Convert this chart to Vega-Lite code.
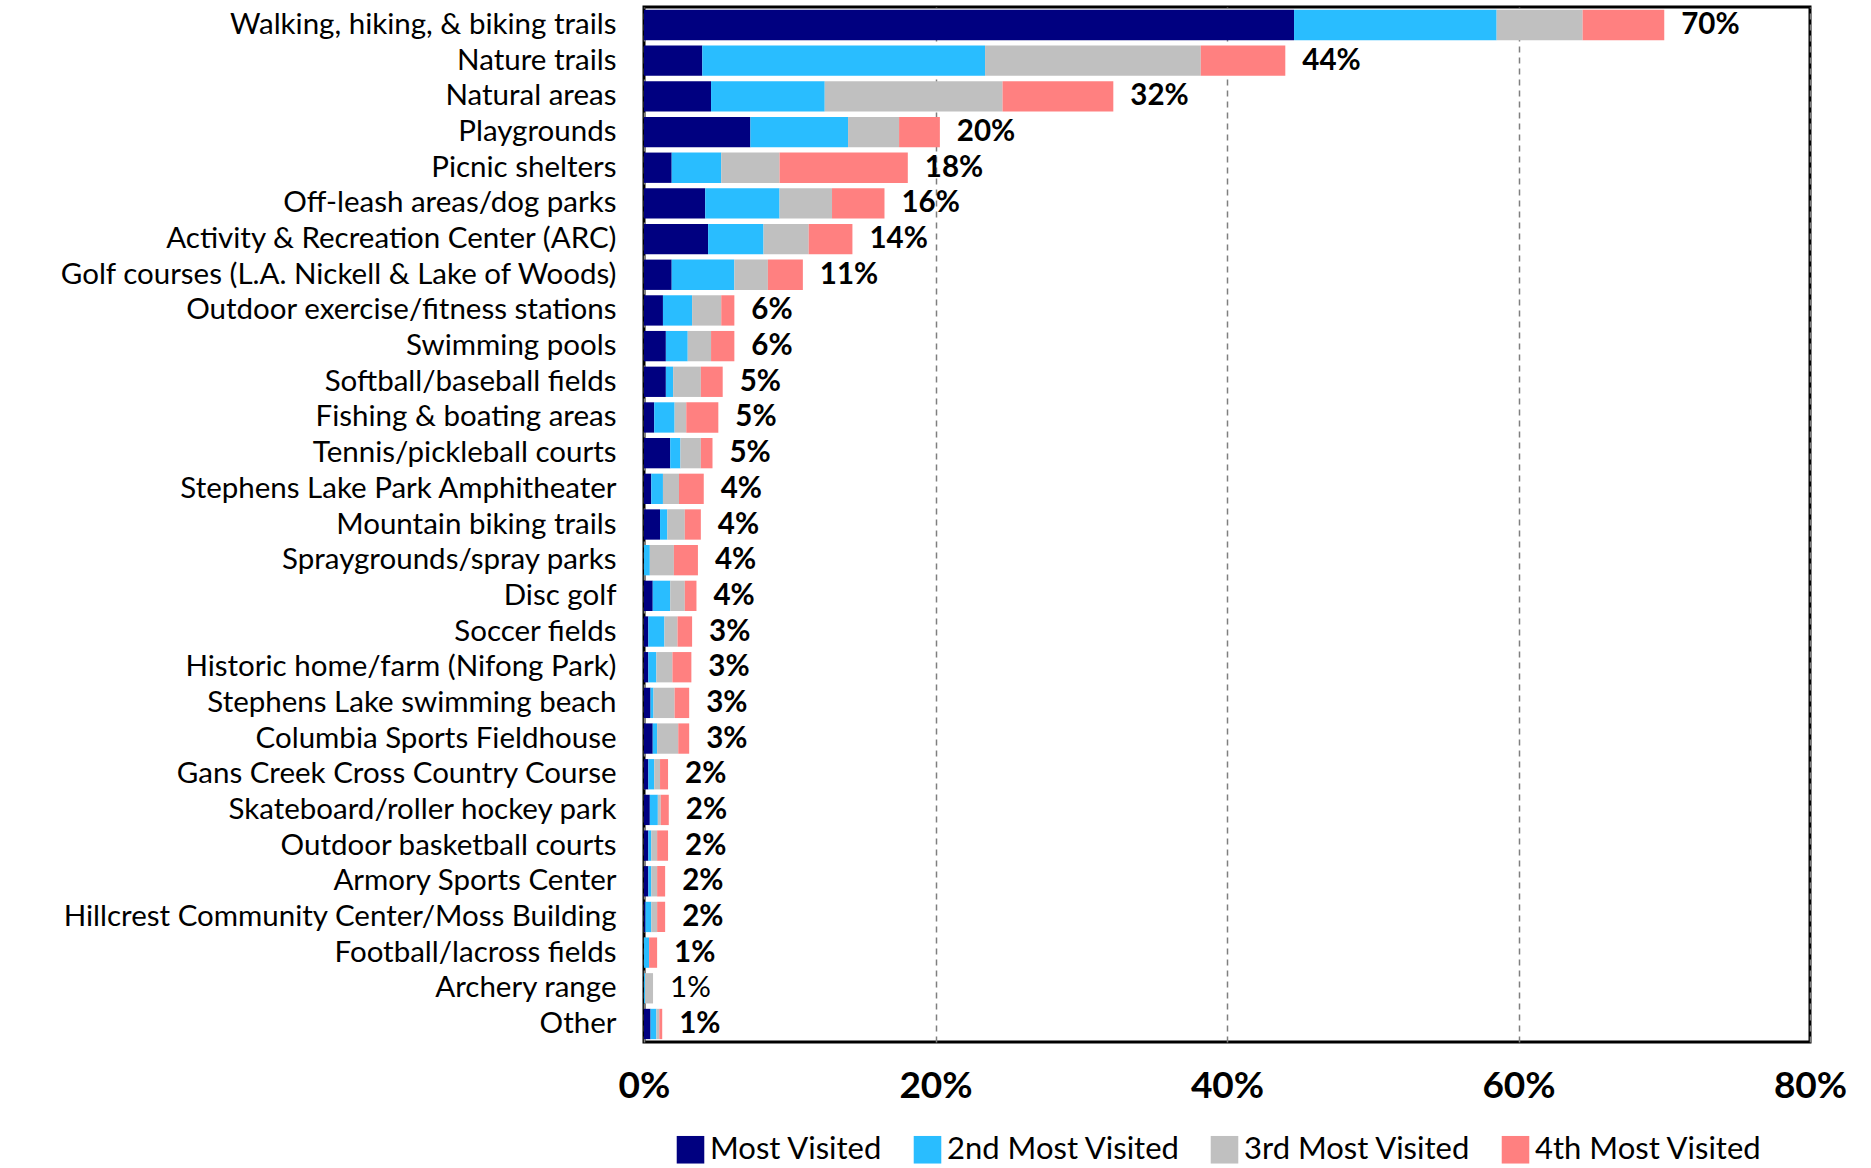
{
  "$schema": "https://vega.github.io/schema/vega-lite/v6.json",
  "width": 1166,
  "height": 1035,
  "autosize": {"type": "none"},
  "padding": {"left": 644, "top": 7, "right": 61, "bottom": 126},
  "background": "white",
  "config": {
    "font": "Lato",
    "view": {"stroke": "black", "strokeWidth": 3}
  },
  "data": {
    "values": [
      {"f": "Walking, hiking, & biking trails", "s": "Most Visited", "r": 1, "v": 44.6, "t": "70%"},
      {"f": "Walking, hiking, & biking trails", "s": "2nd Most Visited", "r": 2, "v": 13.9, "t": "70%"},
      {"f": "Walking, hiking, & biking trails", "s": "3rd Most Visited", "r": 3, "v": 5.9, "t": "70%"},
      {"f": "Walking, hiking, & biking trails", "s": "4th Most Visited", "r": 4, "v": 5.6, "t": "70%"},
      {"f": "Nature trails", "s": "Most Visited", "r": 1, "v": 4.0, "t": "44%"},
      {"f": "Nature trails", "s": "2nd Most Visited", "r": 2, "v": 19.4, "t": "44%"},
      {"f": "Nature trails", "s": "3rd Most Visited", "r": 3, "v": 14.8, "t": "44%"},
      {"f": "Nature trails", "s": "4th Most Visited", "r": 4, "v": 5.8, "t": "44%"},
      {"f": "Natural areas", "s": "Most Visited", "r": 1, "v": 4.6, "t": "32%"},
      {"f": "Natural areas", "s": "2nd Most Visited", "r": 2, "v": 7.8, "t": "32%"},
      {"f": "Natural areas", "s": "3rd Most Visited", "r": 3, "v": 12.2, "t": "32%"},
      {"f": "Natural areas", "s": "4th Most Visited", "r": 4, "v": 7.6, "t": "32%"},
      {"f": "Playgrounds", "s": "Most Visited", "r": 1, "v": 7.3, "t": "20%"},
      {"f": "Playgrounds", "s": "2nd Most Visited", "r": 2, "v": 6.7, "t": "20%"},
      {"f": "Playgrounds", "s": "3rd Most Visited", "r": 3, "v": 3.5, "t": "20%"},
      {"f": "Playgrounds", "s": "4th Most Visited", "r": 4, "v": 2.8, "t": "20%"},
      {"f": "Picnic shelters", "s": "Most Visited", "r": 1, "v": 1.9, "t": "18%"},
      {"f": "Picnic shelters", "s": "2nd Most Visited", "r": 2, "v": 3.4, "t": "18%"},
      {"f": "Picnic shelters", "s": "3rd Most Visited", "r": 3, "v": 4.0, "t": "18%"},
      {"f": "Picnic shelters", "s": "4th Most Visited", "r": 4, "v": 8.8, "t": "18%"},
      {"f": "Off-leash areas/dog parks", "s": "Most Visited", "r": 1, "v": 4.2, "t": "16%"},
      {"f": "Off-leash areas/dog parks", "s": "2nd Most Visited", "r": 2, "v": 5.1, "t": "16%"},
      {"f": "Off-leash areas/dog parks", "s": "3rd Most Visited", "r": 3, "v": 3.6, "t": "16%"},
      {"f": "Off-leash areas/dog parks", "s": "4th Most Visited", "r": 4, "v": 3.6, "t": "16%"},
      {"f": "Activity & Recreation Center (ARC)", "s": "Most Visited", "r": 1, "v": 4.4, "t": "14%"},
      {"f": "Activity & Recreation Center (ARC)", "s": "2nd Most Visited", "r": 2, "v": 3.8, "t": "14%"},
      {"f": "Activity & Recreation Center (ARC)", "s": "3rd Most Visited", "r": 3, "v": 3.1, "t": "14%"},
      {"f": "Activity & Recreation Center (ARC)", "s": "4th Most Visited", "r": 4, "v": 3.0, "t": "14%"},
      {"f": "Golf courses (L.A. Nickell & Lake of Woods)", "s": "Most Visited", "r": 1, "v": 1.9, "t": "11%"},
      {"f": "Golf courses (L.A. Nickell & Lake of Woods)", "s": "2nd Most Visited", "r": 2, "v": 4.3, "t": "11%"},
      {"f": "Golf courses (L.A. Nickell & Lake of Woods)", "s": "3rd Most Visited", "r": 3, "v": 2.3, "t": "11%"},
      {"f": "Golf courses (L.A. Nickell & Lake of Woods)", "s": "4th Most Visited", "r": 4, "v": 2.4, "t": "11%"},
      {"f": "Outdoor exercise/fitness stations", "s": "Most Visited", "r": 1, "v": 1.3, "t": "6%"},
      {"f": "Outdoor exercise/fitness stations", "s": "2nd Most Visited", "r": 2, "v": 2.0, "t": "6%"},
      {"f": "Outdoor exercise/fitness stations", "s": "3rd Most Visited", "r": 3, "v": 2.0, "t": "6%"},
      {"f": "Outdoor exercise/fitness stations", "s": "4th Most Visited", "r": 4, "v": 0.9, "t": "6%"},
      {"f": "Swimming pools", "s": "Most Visited", "r": 1, "v": 1.5, "t": "6%"},
      {"f": "Swimming pools", "s": "2nd Most Visited", "r": 2, "v": 1.5, "t": "6%"},
      {"f": "Swimming pools", "s": "3rd Most Visited", "r": 3, "v": 1.6, "t": "6%"},
      {"f": "Swimming pools", "s": "4th Most Visited", "r": 4, "v": 1.6, "t": "6%"},
      {"f": "Softball/baseball fields", "s": "Most Visited", "r": 1, "v": 1.5, "t": "5%"},
      {"f": "Softball/baseball fields", "s": "2nd Most Visited", "r": 2, "v": 0.5, "t": "5%"},
      {"f": "Softball/baseball fields", "s": "3rd Most Visited", "r": 3, "v": 1.9, "t": "5%"},
      {"f": "Softball/baseball fields", "s": "4th Most Visited", "r": 4, "v": 1.5, "t": "5%"},
      {"f": "Fishing & boating areas", "s": "Most Visited", "r": 1, "v": 0.7, "t": "5%"},
      {"f": "Fishing & boating areas", "s": "2nd Most Visited", "r": 2, "v": 1.4, "t": "5%"},
      {"f": "Fishing & boating areas", "s": "3rd Most Visited", "r": 3, "v": 0.8, "t": "5%"},
      {"f": "Fishing & boating areas", "s": "4th Most Visited", "r": 4, "v": 2.2, "t": "5%"},
      {"f": "Tennis/pickleball courts", "s": "Most Visited", "r": 1, "v": 1.8, "t": "5%"},
      {"f": "Tennis/pickleball courts", "s": "2nd Most Visited", "r": 2, "v": 0.7, "t": "5%"},
      {"f": "Tennis/pickleball courts", "s": "3rd Most Visited", "r": 3, "v": 1.4, "t": "5%"},
      {"f": "Tennis/pickleball courts", "s": "4th Most Visited", "r": 4, "v": 0.8, "t": "5%"},
      {"f": "Stephens Lake Park Amphitheater", "s": "Most Visited", "r": 1, "v": 0.5, "t": "4%"},
      {"f": "Stephens Lake Park Amphitheater", "s": "2nd Most Visited", "r": 2, "v": 0.8, "t": "4%"},
      {"f": "Stephens Lake Park Amphitheater", "s": "3rd Most Visited", "r": 3, "v": 1.1, "t": "4%"},
      {"f": "Stephens Lake Park Amphitheater", "s": "4th Most Visited", "r": 4, "v": 1.7, "t": "4%"},
      {"f": "Mountain biking trails", "s": "Most Visited", "r": 1, "v": 1.1, "t": "4%"},
      {"f": "Mountain biking trails", "s": "2nd Most Visited", "r": 2, "v": 0.5, "t": "4%"},
      {"f": "Mountain biking trails", "s": "3rd Most Visited", "r": 3, "v": 1.2, "t": "4%"},
      {"f": "Mountain biking trails", "s": "4th Most Visited", "r": 4, "v": 1.1, "t": "4%"},
      {"f": "Spraygrounds/spray parks", "s": "Most Visited", "r": 1, "v": 0.0, "t": "4%"},
      {"f": "Spraygrounds/spray parks", "s": "2nd Most Visited", "r": 2, "v": 0.4, "t": "4%"},
      {"f": "Spraygrounds/spray parks", "s": "3rd Most Visited", "r": 3, "v": 1.65, "t": "4%"},
      {"f": "Spraygrounds/spray parks", "s": "4th Most Visited", "r": 4, "v": 1.65, "t": "4%"},
      {"f": "Disc golf", "s": "Most Visited", "r": 1, "v": 0.6, "t": "4%"},
      {"f": "Disc golf", "s": "2nd Most Visited", "r": 2, "v": 1.2, "t": "4%"},
      {"f": "Disc golf", "s": "3rd Most Visited", "r": 3, "v": 1.0, "t": "4%"},
      {"f": "Disc golf", "s": "4th Most Visited", "r": 4, "v": 0.8, "t": "4%"},
      {"f": "Soccer fields", "s": "Most Visited", "r": 1, "v": 0.3, "t": "3%"},
      {"f": "Soccer fields", "s": "2nd Most Visited", "r": 2, "v": 1.1, "t": "3%"},
      {"f": "Soccer fields", "s": "3rd Most Visited", "r": 3, "v": 0.9, "t": "3%"},
      {"f": "Soccer fields", "s": "4th Most Visited", "r": 4, "v": 1.0, "t": "3%"},
      {"f": "Historic home/farm (Nifong Park)", "s": "Most Visited", "r": 1, "v": 0.3, "t": "3%"},
      {"f": "Historic home/farm (Nifong Park)", "s": "2nd Most Visited", "r": 2, "v": 0.55, "t": "3%"},
      {"f": "Historic home/farm (Nifong Park)", "s": "3rd Most Visited", "r": 3, "v": 1.1, "t": "3%"},
      {"f": "Historic home/farm (Nifong Park)", "s": "4th Most Visited", "r": 4, "v": 1.3, "t": "3%"},
      {"f": "Stephens Lake swimming beach", "s": "Most Visited", "r": 1, "v": 0.45, "t": "3%"},
      {"f": "Stephens Lake swimming beach", "s": "2nd Most Visited", "r": 2, "v": 0.2, "t": "3%"},
      {"f": "Stephens Lake swimming beach", "s": "3rd Most Visited", "r": 3, "v": 1.45, "t": "3%"},
      {"f": "Stephens Lake swimming beach", "s": "4th Most Visited", "r": 4, "v": 1.0, "t": "3%"},
      {"f": "Columbia Sports Fieldhouse", "s": "Most Visited", "r": 1, "v": 0.6, "t": "3%"},
      {"f": "Columbia Sports Fieldhouse", "s": "2nd Most Visited", "r": 2, "v": 0.3, "t": "3%"},
      {"f": "Columbia Sports Fieldhouse", "s": "3rd Most Visited", "r": 3, "v": 1.45, "t": "3%"},
      {"f": "Columbia Sports Fieldhouse", "s": "4th Most Visited", "r": 4, "v": 0.75, "t": "3%"},
      {"f": "Gans Creek Cross Country Course", "s": "Most Visited", "r": 1, "v": 0.3, "t": "2%"},
      {"f": "Gans Creek Cross Country Course", "s": "2nd Most Visited", "r": 2, "v": 0.4, "t": "2%"},
      {"f": "Gans Creek Cross Country Course", "s": "3rd Most Visited", "r": 3, "v": 0.4, "t": "2%"},
      {"f": "Gans Creek Cross Country Course", "s": "4th Most Visited", "r": 4, "v": 0.55, "t": "2%"},
      {"f": "Skateboard/roller hockey park", "s": "Most Visited", "r": 1, "v": 0.4, "t": "2%"},
      {"f": "Skateboard/roller hockey park", "s": "2nd Most Visited", "r": 2, "v": 0.55, "t": "2%"},
      {"f": "Skateboard/roller hockey park", "s": "3rd Most Visited", "r": 3, "v": 0.2, "t": "2%"},
      {"f": "Skateboard/roller hockey park", "s": "4th Most Visited", "r": 4, "v": 0.55, "t": "2%"},
      {"f": "Outdoor basketball courts", "s": "Most Visited", "r": 1, "v": 0.3, "t": "2%"},
      {"f": "Outdoor basketball courts", "s": "2nd Most Visited", "r": 2, "v": 0.2, "t": "2%"},
      {"f": "Outdoor basketball courts", "s": "3rd Most Visited", "r": 3, "v": 0.4, "t": "2%"},
      {"f": "Outdoor basketball courts", "s": "4th Most Visited", "r": 4, "v": 0.75, "t": "2%"},
      {"f": "Armory Sports Center", "s": "Most Visited", "r": 1, "v": 0.3, "t": "2%"},
      {"f": "Armory Sports Center", "s": "2nd Most Visited", "r": 2, "v": 0.2, "t": "2%"},
      {"f": "Armory Sports Center", "s": "3rd Most Visited", "r": 3, "v": 0.4, "t": "2%"},
      {"f": "Armory Sports Center", "s": "4th Most Visited", "r": 4, "v": 0.55, "t": "2%"},
      {"f": "Hillcrest Community Center/Moss Building", "s": "Most Visited", "r": 1, "v": 0.1, "t": "2%"},
      {"f": "Hillcrest Community Center/Moss Building", "s": "2nd Most Visited", "r": 2, "v": 0.4, "t": "2%"},
      {"f": "Hillcrest Community Center/Moss Building", "s": "3rd Most Visited", "r": 3, "v": 0.4, "t": "2%"},
      {"f": "Hillcrest Community Center/Moss Building", "s": "4th Most Visited", "r": 4, "v": 0.55, "t": "2%"},
      {"f": "Football/lacross fields", "s": "Most Visited", "r": 1, "v": 0.0, "t": "1%"},
      {"f": "Football/lacross fields", "s": "2nd Most Visited", "r": 2, "v": 0.35, "t": "1%"},
      {"f": "Football/lacross fields", "s": "3rd Most Visited", "r": 3, "v": 0.0, "t": "1%"},
      {"f": "Football/lacross fields", "s": "4th Most Visited", "r": 4, "v": 0.55, "t": "1%"},
      {"f": "Archery range", "s": "Most Visited", "r": 1, "v": 0.0, "t": "1%"},
      {"f": "Archery range", "s": "2nd Most Visited", "r": 2, "v": 0.07, "t": "1%"},
      {"f": "Archery range", "s": "3rd Most Visited", "r": 3, "v": 0.55, "t": "1%"},
      {"f": "Archery range", "s": "4th Most Visited", "r": 4, "v": 0.0, "t": "1%"},
      {"f": "Other", "s": "Most Visited", "r": 1, "v": 0.45, "t": "1%"},
      {"f": "Other", "s": "2nd Most Visited", "r": 2, "v": 0.4, "t": "1%"},
      {"f": "Other", "s": "3rd Most Visited", "r": 3, "v": 0.2, "t": "1%"},
      {"f": "Other", "s": "4th Most Visited", "r": 4, "v": 0.2, "t": "1%"}
    ]
  },
  "encoding": {
    "y": {
      "field": "f",
      "type": "nominal",
      "sort": null,
      "scale": {"paddingInner": 0.15, "paddingOuter": 0.08},
      "axis": {
        "title": null,
        "ticks": false,
        "domain": false,
        "labelFontSize": 29.5,
        "labelColor": "black",
        "labelPadding": 28,
        "labelLimit": 800
      }
    }
  },
  "layer": [
    {
      "mark": {"type": "bar"},
      "encoding": {
        "x": {
          "field": "v",
          "type": "quantitative",
          "aggregate": "sum",
          "stack": "zero",
          "scale": {"domain": [0, 80], "nice": false},
          "axis": {
            "title": null,
            "values": [0, 20, 40, 60, 80],
            "labelExpr": "datum.value + '%'",
            "labelFontSize": 37,
            "labelFontWeight": "bold",
            "labelColor": "black",
            "labelPadding": 26,
            "labelFlush": false,
            "labelOverlap": false,
            "ticks": false,
            "domain": false,
            "grid": true,
            "gridColor": "#7f7f7f",
            "gridWidth": 1.5,
            "gridDash": [6, 5]
          }
        },
        "color": {
          "field": "s",
          "type": "nominal",
          "scale": {
            "domain": ["Most Visited", "2nd Most Visited", "3rd Most Visited", "4th Most Visited"],
            "range": ["#000080", "#29BDFF", "#C0C0C0", "#FF8080"]
          },
          "legend": {
            "title": null,
            "orient": "none",
            "legendX": 31,
            "legendY": 1127,
            "direction": "horizontal",
            "symbolType": "square",
            "symbolSize": 760,
            "symbolStrokeWidth": 0,
            "labelFontSize": 31,
            "labelLimit": 600,
            "labelColor": "black",
            "columnPadding": 29,
            "labelOffset": 4
          }
        },
        "order": {"field": "r", "type": "quantitative"}
      }
    },
    {
      "transform": [{"filter": "datum.f !== 'Archery range'"}],
      "mark": {"type": "text", "align": "left", "baseline": "middle", "dx": 17, "fontSize": 29.5, "fontWeight": "bold", "color": "black"},
      "encoding": {
        "x": {"field": "v", "type": "quantitative", "aggregate": "sum"},
        "text": {"field": "t", "type": "nominal"}
      }
    },
    {
      "transform": [{"filter": "datum.f === 'Archery range'"}],
      "mark": {"type": "text", "align": "left", "baseline": "middle", "dx": 17, "fontSize": 29.5, "fontWeight": "normal", "color": "black"},
      "encoding": {
        "x": {"field": "v", "type": "quantitative", "aggregate": "sum"},
        "text": {"field": "t", "type": "nominal"}
      }
    }
  ]
}
